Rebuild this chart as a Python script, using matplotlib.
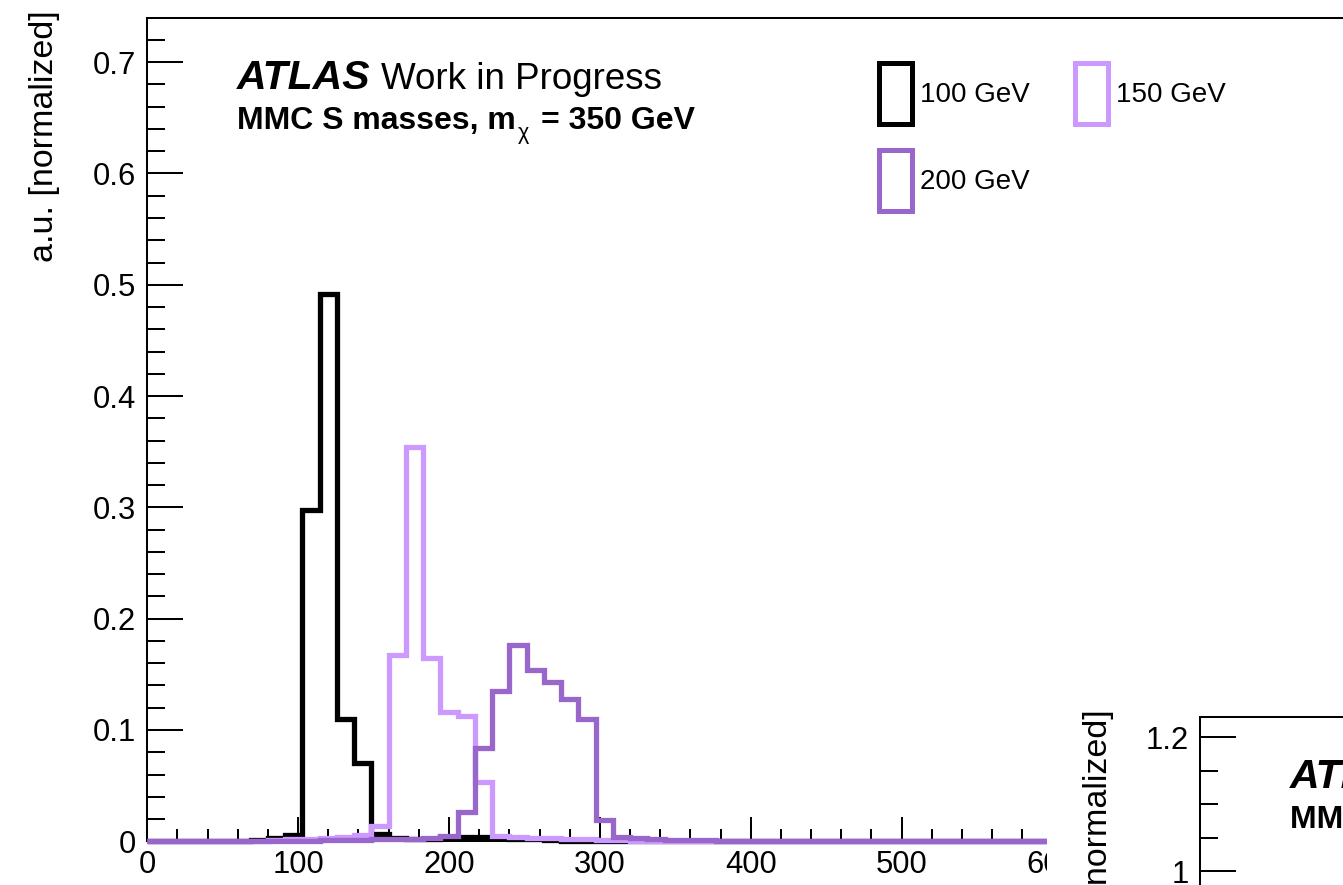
import matplotlib
matplotlib.use('Agg')
import matplotlib.pyplot as plt
import numpy as np
from matplotlib.patches import Rectangle
from matplotlib.ticker import MultipleLocator, FixedLocator, FuncFormatter

plt.rcParams['font.family'] = ['Liberation Sans', 'DejaVu Sans']

# ---------------- data ----------------
x_range = (0, 800)
n_bins = 70
x_ticks = [0, 100, 200, 300, 400, 500, 600]
labels = ['100 GeV', '150 GeV', '200 GeV']
colors = ['#000000', '#CC99FF', '#9966CC']

mass_100 = [0, 0, 0, 0, 0, 0.0005, 0.001, 0.003, 0.006, 0.298,
            0.492, 0.110, 0.070, 0.007, 0.003, 0.002, 0.002, 0.004, 0.004, 0.004,
            0.004, 0.002, 0.002, 0.001, 0, 0, 0, 0, 0, 0,
            0, 0, 0, 0, 0, 0, 0, 0, 0, 0,
            0, 0, 0, 0, 0, 0, 0, 0, 0, 0,
            0, 0, 0, 0, 0, 0, 0, 0, 0, 0,
            0, 0, 0, 0, 0, 0, 0, 0, 0, 0]
mass_150 = [0, 0, 0, 0, 0, 0, 0, 0.001, 0.002, 0.002,
            0.003, 0.004, 0.006, 0.014, 0.167, 0.354, 0.165, 0.116, 0.113, 0.053,
            0.005, 0.004, 0.003, 0.003, 0.002, 0.002, 0.001, 0.001, 0, 0,
            0, 0, 0, 0, 0, 0, 0, 0, 0, 0,
            0, 0, 0, 0, 0, 0, 0, 0, 0, 0,
            0, 0, 0, 0, 0, 0, 0, 0, 0, 0,
            0, 0, 0, 0, 0, 0, 0, 0, 0, 0]
mass_200 = [0, 0, 0, 0, 0, 0, 0, 0, 0, 0.0005,
            0.001, 0.001, 0.0015, 0.002, 0.002, 0.0025, 0.003, 0.005, 0.026, 0.084,
            0.135, 0.176, 0.154, 0.143, 0.128, 0.110, 0.019, 0.0035, 0.003, 0.002,
            0.0015, 0.001, 0.001, 0.0005, 0, 0, 0, 0, 0, 0,
            0, 0, 0, 0, 0, 0, 0, 0, 0, 0,
            0, 0, 0, 0, 0, 0, 0, 0, 0, 0,
            0, 0, 0, 0, 0, 0, 0, 0, 0, 0]
series = [mass_100, mass_150, mass_200]

y_max_main = 0.7397
y_max_inner = 1.23
inner_tick_labels = {1.0: '1', 1.2: '1.2'}

# ---------------- layout ----------------
W, H = 1343, 885
fig = plt.figure(figsize=(W / 100, H / 100), dpi=100)


def fx(x):
    return x / W


def fy(y):
    return 1 - y / H


def add_axes_px(left, top, width, height):
    return fig.add_axes([left / W, 1 - (top + height) / H, width / W, height / H])


PX_PER_GEV = 1.5085
AX_H = 823.3
edges = np.linspace(x_range[0], x_range[1], n_bins + 1)

fmt = FuncFormatter(lambda v, p: f'{v:g}')

# main pad
ax = add_axes_px(147.3, 18.0, (x_range[1] - x_range[0]) * PX_PER_GEV, AX_H)
ax.set_xlim(*x_range)
ax.set_ylim(0, y_max_main)
ax.set_facecolor('none')
ax.spines['right'].set_visible(False)
for s in ax.spines.values():
    s.set_linewidth(1.45)
ax.xaxis.set_major_locator(FixedLocator(x_ticks))
ax.xaxis.set_minor_locator(MultipleLocator(20))
ax.yaxis.set_major_locator(MultipleLocator(0.1))
ax.yaxis.set_minor_locator(MultipleLocator(0.02))
ax.xaxis.set_major_formatter(fmt)
ax.yaxis.set_major_formatter(fmt)
ax.tick_params(axis='both', which='both', direction='in', width=1.45,
               top=False, right=False, labelsize=22.3)
ax.tick_params(axis='x', which='major', length=17.3, pad=6)
ax.tick_params(axis='x', which='minor', length=8.6)
ax.tick_params(axis='y', which='major', length=25.7, pad=8)
ax.tick_params(axis='y', which='minor', length=13)

for vals, col in zip(series, colors):
    ax.stairs(vals, edges, color=col, linewidth=3.8, zorder=3, clip_on=False,
              baseline=0)

fig.text(fx(45), fy(10), 'a.u. [normalized]', rotation=90, ha='center', va='top',
         fontsize=24.5)

renderer = fig.canvas.get_renderer()


def header(x0, x_work, y_base1, y_base2, z):
    fig.text(fx(x0), fy(y_base1), 'ATLAS', fontsize=29.5, fontweight='bold',
             fontstyle='italic', va='baseline', zorder=z)
    fig.text(fx(x_work), fy(y_base1), 'Work in Progress', fontsize=26.5,
             va='baseline', zorder=z)
    t3 = fig.text(fx(x0), fy(y_base2), 'MMC S masses, m', fontsize=23,
                  fontweight='bold', va='baseline', zorder=z)
    bb3 = t3.get_window_extent(renderer)
    t4 = fig.text((bb3.x1 + 2) / W, fy(y_base2 + 10), 'χ', fontsize=15.5,
                  va='baseline', zorder=z)
    bb4 = t4.get_window_extent(renderer)
    fig.text((bb4.x1 + 12) / W, fy(y_base2), '= 350 GeV', fontsize=23,
             fontweight='bold', va='baseline', zorder=z)


header(237, 381, 89, 129, 3)

# legend (manual, ROOT style boxes)
leg_boxes = [(879.2, 63.2), (1075.2, 63.2), (879.2, 150.2)]
for (bx, by), lab, col in zip(leg_boxes, labels, colors):
    fig.add_artist(Rectangle((fx(bx), fy(by + 60.5)), 32.3 / W, 60.5 / H,
                             transform=fig.transFigure, facecolor='none',
                             edgecolor=col, linewidth=3.6, zorder=4))
    fig.text(fx(bx + 41), fy(by + 31.5), lab, fontsize=20, va='center', ha='left')

# overlapping second pad (bottom right)
PAD_X, PAD_Y = 1047, 699
fig.add_artist(Rectangle((fx(PAD_X), 0), 1 - fx(PAD_X), fy(PAD_Y),
                         transform=fig.transFigure, facecolor='white',
                         edgecolor='none', zorder=8))
ax2 = add_axes_px(PAD_X + 153.3, PAD_Y + 18.3, 1000, AX_H)
ax2.set_zorder(10)
ax2.set_facecolor('none')
ax2.set_ylim(0, y_max_inner)
ax2.set_xlim(*x_range)
ax2.spines['right'].set_visible(False)
for s in ax2.spines.values():
    s.set_linewidth(1.45)
ax2.yaxis.set_major_locator(MultipleLocator(0.2))
ax2.yaxis.set_minor_locator(MultipleLocator(0.05))
ax2.yaxis.set_major_formatter(FuncFormatter(
    lambda v, p: inner_tick_labels.get(round(v, 2), f'{v:g}')))
ax2.tick_params(axis='both', which='both', direction='in', width=1.45,
                top=False, right=False, labelsize=22.3, labelbottom=False)
ax2.tick_params(axis='y', which='major', length=25.7, pad=8)
ax2.tick_params(axis='y', which='minor', length=13)
fig.text(fx(PAD_X + 51), fy(PAD_Y + 10), 'a.u. [normalized]', rotation=90,
         ha='center', va='top', fontsize=24.5, zorder=11)
header(PAD_X + 243, PAD_X + 387, PAD_Y + 89, PAD_Y + 129, 11)

fig.savefig('out.png', dpi=100, facecolor='white')
